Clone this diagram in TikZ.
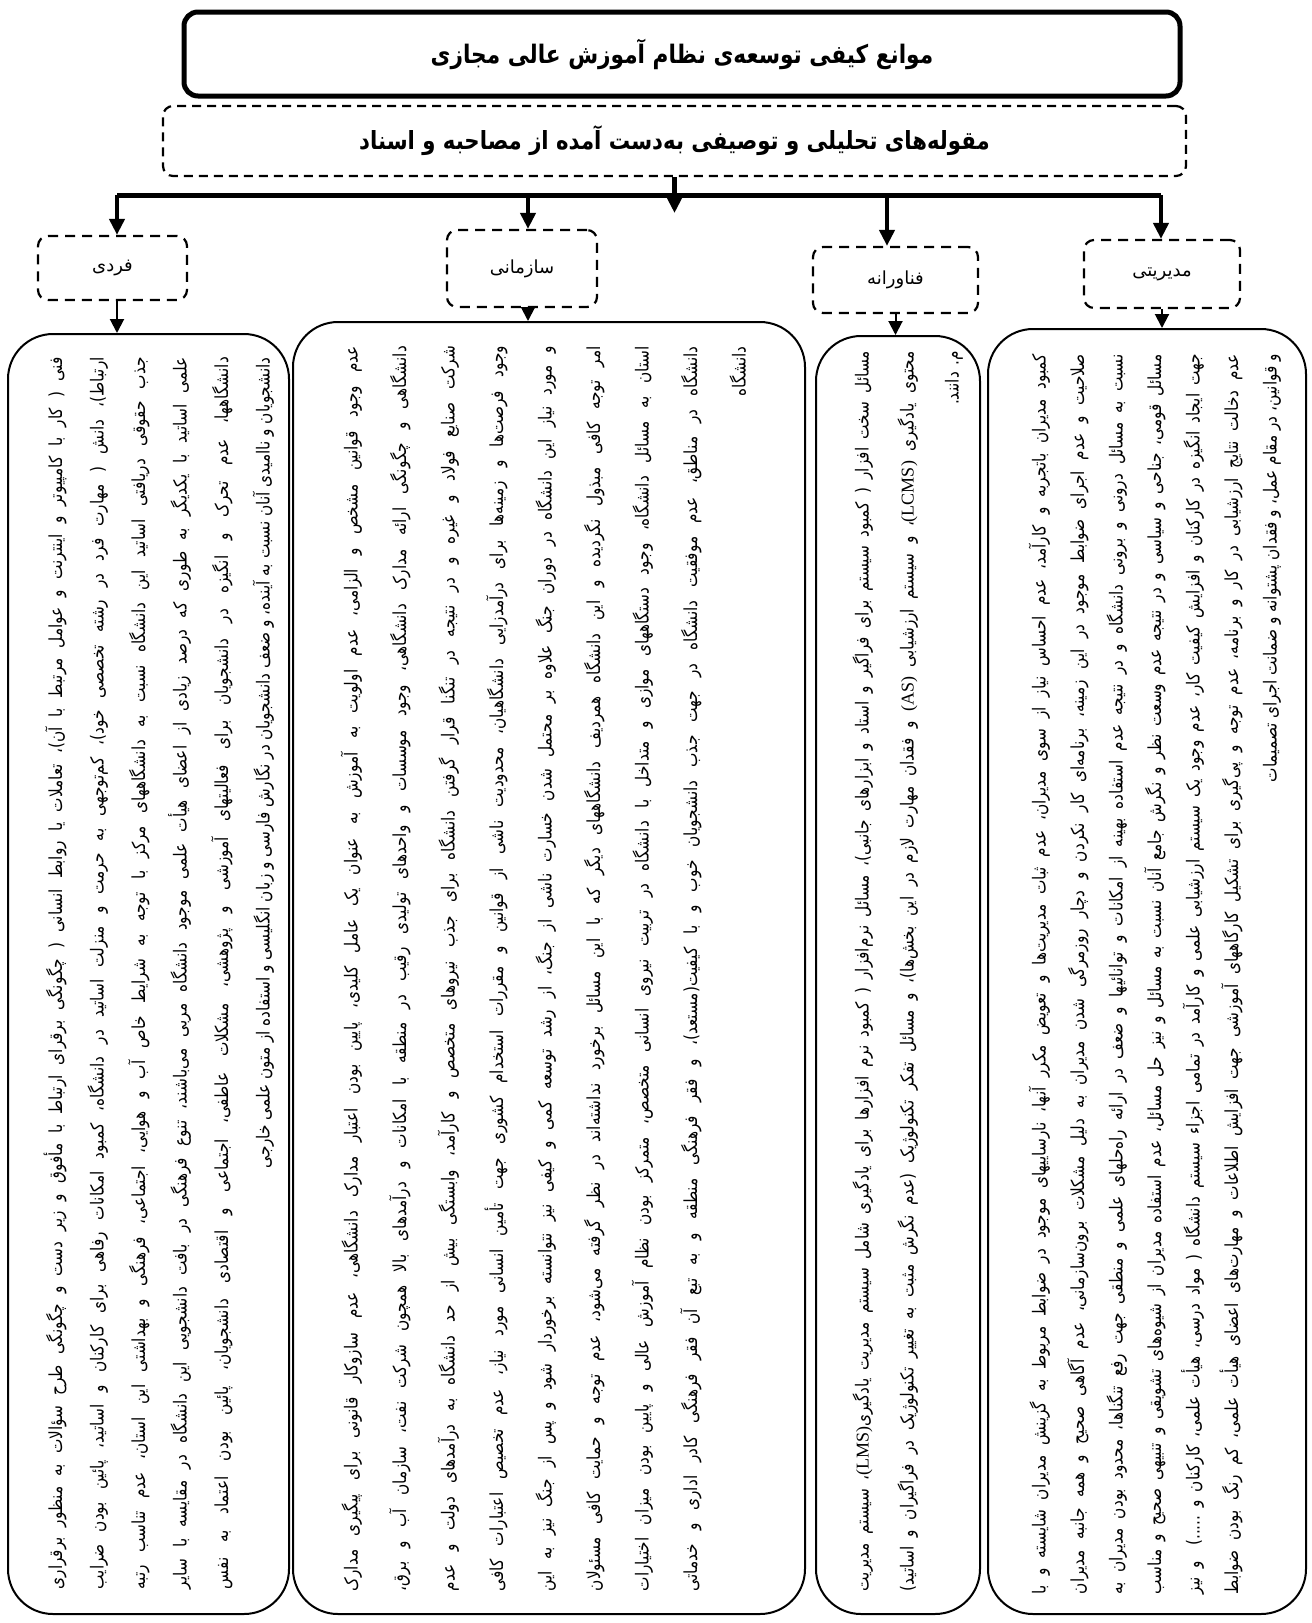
\documentclass[tikz,border=0pt]{standalone}
\usepackage{fontspec}
\usepackage{graphicx}
\usetikzlibrary{arrows.meta}
\TeXXeTstate=1
\newfontfamily\fa[Script=Arabic]{DejaVu Sans}
\newfontfamily\fab[Script=Arabic, FakeStretch=0.85]{DejaVu Sans}
\newfontfamily\latf{Liberation Serif}
\newlength\colL
\newsavebox\lnbox
\newcommand\jl[2]{\setlength\colL{#1}%
  \sbox\lnbox{#2}%
  \ifdim\wd\lnbox>\colL\relax\resizebox{\colL}{!}{\usebox\lnbox}%
  \else\hbox to \colL{#2}\fi}
\newcommand\lastln[2]{\hbox to #1{\hfil #2}}
\newcommand\eng[1]{\beginL{\latf #1}\endL}
\tikzset{
  titlebox/.style={draw, line width=5pt, rounded corners=14pt, inner sep=0pt,
    minimum width=996pt, minimum height=84pt, font=\fab\bfseries\fontsize{25.5}{30}\selectfont},
  subbox/.style={draw, line width=2.2pt, dash pattern=on 9pt off 6pt, rounded corners=10pt, inner sep=0pt,
    minimum width=1023pt, minimum height=70pt, font=\fab\bfseries\fontsize{25}{29}\selectfont},
  catbox/.style={draw, line width=2.2pt, dash pattern=on 10pt off 7pt, rounded corners=10pt, inner sep=0pt,
    font=\fa\fontsize{18}{22}\selectfont},
  cbox/.style={draw, line width=2pt, rounded corners=45pt, inner sep=0pt},
  col/.style={rotate=90, anchor=base east, inner sep=0pt, font=\fab\fontsize{18}{21}\selectfont},
  bigarrow/.style={line width=4.5pt, -{Triangle[length=16pt,width=15pt]}},
  smallarrow/.style={line width=2pt, -{Triangle[length=14pt,width=14pt]}}
}
\begin{document}
\begin{tikzpicture}[x=1pt,y=-1pt]
\useasboundingbox (0,0) rectangle (1312,1623);
\fill[white] (0,0) rectangle (1312,1623);

% headers
\node[titlebox] (title) at (682,54) {\beginR موانع کیفی توسعه^^^^200cی نظام آموزش عالی مجازی\endR};
\node[subbox] (sub) at (674.5,141) {\beginR مقوله^^^^200cهای تحلیلی و توصیفی به^^^^200cدست آمده از مصاحبه و اسناد\endR};

% bar
\coordinate (b1) at (117,195);
\coordinate (b2) at (528,195);
\coordinate (b3) at (887,195);
\coordinate (b4) at (1161,195);
\coordinate (cj) at (674.5,213);
\draw[line width=5pt] (b1) -- (b4);
\draw[bigarrow] (sub.south) -- (cj);

% categories
\node[catbox, minimum width=149pt, minimum height=64pt] (fc) at (112.5,268) {\beginR فردی\endR};
\node[catbox, minimum width=150pt, minimum height=77pt] (sc) at (522,268.5) {\beginR سازمانی\endR};
\node[catbox, minimum width=165pt, minimum height=66pt] (tc) at (895.5,280) {\beginR فناورانه\endR};
\node[catbox, minimum width=156pt, minimum height=68pt] (mc) at (1162,274) {\beginR مدیریتی\endR};

\draw[bigarrow] (b1) -- (b1 |- fc.north);
\draw[bigarrow] (b2) -- (b2 |- sc.north);
\draw[bigarrow] (b3) -- (b3 |- tc.north);
\draw[bigarrow] (b4) -- (b4 |- mc.north);

% content boxes
\node[cbox, minimum width=281pt, minimum height=1280pt] (fb) at (148.5,974) {};
\node[cbox, minimum width=512pt, minimum height=1292pt] (sb) at (549,968) {};
\node[cbox, minimum width=164pt, minimum height=1278pt] (tb) at (898,975) {};
\node[cbox, minimum width=318pt, minimum height=1285pt] (mb) at (1147,971.5) {};

\draw[smallarrow] (fc.south -| b1) -- (b1 |- fb.north);
\draw[smallarrow] (sc.south -| b2) -- (b2 |- sb.north);
\draw[smallarrow] (tc.south) -- (tc.south |- tb.north);
\draw[smallarrow] (mc.south) -- (mc.south |- mb.north);

% management
\node[col] (m1) at (1045.5,354) {\jl{1240pt}{\beginR کمبود مدیران باتجربه و کارآمد، عدم احساس نیاز از سوی مدیران، عدم ثبات مدیریت^^^^200cها و تعویض مکرر آنها، نارساییهای موجود در ضوابط مربوط به گزینش مدیران شایسته و با\endR}};
\node[col] (m2) at (1084,354) {\jl{1240pt}{\beginR صلاحیت و عدم اجرای ضوابط موجود در این زمینه، برنامه^^^^200cای کار نکردن و دچار روزمرگی شدن مدیران به دلیل مشکلات برون^^^^200cسازمانی، عدم آگاهی صحیح و همه جانبه مدیران\endR}};
\node[col] (m3) at (1122.5,354) {\jl{1240pt}{\beginR نسبت به مسائل درونی و برونی دانشگاه و در نتیجه عدم استفاده بهینه از امکانات و توانائیها و ضعف در ارائه راه^^^^200cحلهای علمی و منطقی جهت رفع تنگناها، محدود بودن مدیران به\endR}};
\node[col] (m4) at (1161,354) {\jl{1240pt}{\beginR مسائل قومی، جناحی و سیاسی و در نتیجه عدم وسعت نظر و نگرش جامع آنان نسبت به مسائل و نیز حل مسائل، عدم استفاده مدیران از شیوه^^^^200cهای تشویقی و تنبیهی صحیح و مناسب\endR}};
\node[col] (m5) at (1199.5,354) {\jl{1240pt}{\beginR جهت ایجاد انگیزه در کارکنان و افزایش کیفیت کار، عدم وجود یک سیستم ارزشیابی علمی و کارآمد در تمامی اجزاء سیستم دانشگاه ( مواد درسی، هیأت علمی، کارکنان و .....) و نیز\endR}};
\node[col] (m6) at (1238,354) {\jl{1240pt}{\beginR عدم دخالت نتایج ارزشیابی در کار و برنامه، عدم توجه و پی^^^^200cگیری برای تشکیل کارگاههای آموزشی جهت افزایش اطلاعات و مهارت^^^^200cهای اعضای هیأت علمی، کم رنگ بودن ضوابط\endR}};
\node[col] (m7) at (1276.5,354) {\lastln{1240pt}{\beginR و قوانین، در مقام عمل، و فقدان پشتوانه و ضمانت اجرای تصمیمات\endR}};

% technology
\node[col] (t1) at (868.5,351) {\jl{1240pt}{\beginR مسائل سخت افزار ( کمبود سیستم برای فراگیر و استاد و ابزارهای جانبی)، مسائل نرم^^^^200cافزار ( کمبود نرم افزارها برای یادگیری شامل سیستم مدیریت یادگیری\eng{(LMS)}، سیستم مدیریت\endR}};
\node[col] (t2) at (913.5,351) {\jl{1240pt}{\beginR محتوی یادگیری \eng{(LCMS)}، و سیستم ارزشیابی \eng{(AS)} و فقدان مهارت لازم در این بخش^^^^200cها)، و مسائل تفکر تکنولوژیک (عدم نگرش مثبت به تغییر تکنولوژیک در فراگیران و اساتید)\endR}};
\node[col] (t3) at (958.5,351) {\lastln{1240pt}{\beginR م. دانند.\endR}};

% organisational
\node[col] (s1) at (357.5,346) {\jl{1245pt}{\beginR عدم وجود قوانین مشخص و الزامی، عدم اولویت به آموزش به عنوان یک عامل کلیدی، پایین بودن اعتبار مدارک دانشگاهی، عدم سازوکار قانونی برای پیگیری مدارک\endR}};
\node[col] (s2) at (406,346) {\jl{1245pt}{\beginR دانشگاهی و چگونگی ارائه مدارک دانشگاهی، وجود موسسات و واحدهای تولیدی رقیب در منطقه با امکانات و درآمدهای بالا همچون شرکت نفت، سازمان آب و برق،\endR}};
\node[col] (s3) at (454.5,346) {\jl{1245pt}{\beginR شرکت صنایع فولاد و غیره و در نتیجه در تنگنا قرار گرفتن دانشگاه برای جذب نیروهای متخصص و کارآمد، وابستگی بیش از حد دانشگاه به درآمدهای دولت و عدم\endR}};
\node[col] (s4) at (503,346) {\jl{1245pt}{\beginR وجود فرصت^^^^200cها و زمینه^^^^200cها برای درآمدزایی دانشگاهیان، محدودیت ناشی از قوانین و مقررات استخدام کشوری جهت تأمین انسانی مورد نیاز، عدم تخصیص اعتبارات کافی\endR}};
\node[col] (s5) at (551.5,346) {\jl{1245pt}{\beginR و مورد نیاز این دانشگاه در دوران جنگ علاوه بر محتمل شدن خسارت ناشی از جنگ، از رشد توسعه کمی و کیفی نیز نتوانسته برخوردار شود و پس از جنگ نیز به این\endR}};
\node[col] (s6) at (600,346) {\jl{1245pt}{\beginR امر توجه کافی مبذول نگردیده و این دانشگاه همردیف دانشگاههای دیگر که با این مسائل برخورد نداشته^^^^200cاند در نظر گرفته می^^^^200cشود، عدم توجه و حمایت کافی مسئولان\endR}};
\node[col] (s7) at (648.5,346) {\jl{1245pt}{\beginR استان به مسائل دانشگاه، وجود دستگاههای موازی و متداخل با دانشگاه در تربیت نیروی انسانی متخصص، متمرکز بودن نظام آموزش عالی و پایین بودن میزان اختیارات\endR}};
\node[col] (s8) at (697,346) {\jl{1245pt}{\beginR دانشگاه در مناطق، عدم موفقیت دانشگاه در جهت جذب دانشجویان خوب و با کیفیت(مستعد)، و فقر فرهنگی منطقه و به تبع آن فقر فرهنگی کادر اداری و خدماتی\endR}};
\node[col] (s9) at (745.5,346) {\lastln{1245pt}{\beginR دانشگاه\endR}};

% individual
\node[col] (f1) at (62,357) {\jl{1232pt}{\beginR فنی ( کار با کامپیوتر و اینترنت و عوامل مرتبط با آن)، تعاملات یا روابط انسانی ( چگونگی برقرای ارتباط با مأفوق و زیر دست و چگونگی طرح سؤالات به منظور برقراری\endR}};
\node[col] (f2) at (103.5,357) {\jl{1232pt}{\beginR ارتباط)، دانش ( مهارت فرد در رشته تخصصی خود)، کم^^^^200cتوجهی به حرمت و منزلت اساتید در دانشگاه، کمبود امکانات رفاهی برای کارکنان و اساتید، پائین بودن ضرایب\endR}};
\node[col] (f3) at (145,357) {\jl{1232pt}{\beginR جذب حقوقی دریافتی اساتید این دانشگاه نسبت به دانشگاههای مرکز با توجه به شرایط خاص آب و هوایی، اجتماعی، فرهنگی و بهداشتی این استان، عدم تناسب رتبه\endR}};
\node[col] (f4) at (186.5,357) {\jl{1232pt}{\beginR علمی اساتید با یکدیگر به طوری که درصد زیادی از اعضای هیأت علمی موجود دانشگاه مربی می^^^^200cباشند، تنوع فرهنگی در بافت دانشجویی این دانشگاه در مقایسه با سایر\endR}};
\node[col] (f5) at (228,357) {\jl{1232pt}{\beginR دانشگاهها، عدم تحرک و انگیزه در دانشجویان برای فعالیتهای آموزشی و پژوهشی، مشکلات عاطفی، اجتماعی و اقتصادی دانشجویان، پائین بودن اعتماد به نفس\endR}};
\node[col] (f6) at (269.5,357) {\lastln{1232pt}{\beginR دانشجویان و ناامیدی آنان نسبت به آینده، و ضعف دانشجویان در نگارش فارسی و زبان انگلیسی و استفاده از متون علمی خارجی\endR}};
\end{tikzpicture}
\end{document}
